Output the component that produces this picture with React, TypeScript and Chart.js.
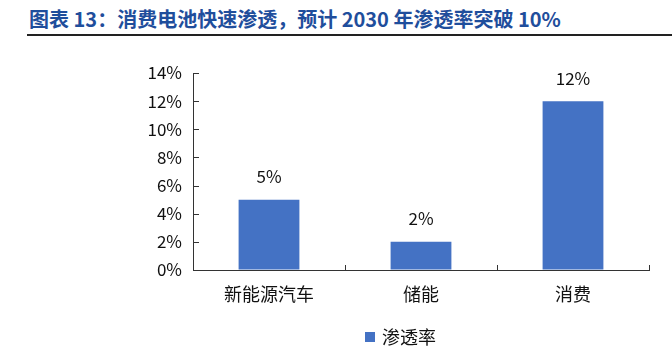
import React, { useEffect, useRef } from "react";
import { Chart, registerables } from "chart.js";
Chart.register(...registerables);

const titleText = "图表 13：消费电池快速渗透，预计 2030 年渗透率突破 10%";
const categories = ["新能源汽车", "储能", "消费"];
const penetration = [5, 2, 12];
const seriesName = "渗透率";
const yMax = 14;
const yStep = 2;

const FONT = "'Noto Sans CJK SC', 'Noto Sans', sans-serif";
const BAR = "#4472C4";
const AXIS = "#333333";
const TEXT = "#111111";

const innerTicks = {
  id: "innerTicks",
  afterDraw(chart: any) {
    const { ctx, chartArea, scales } = chart;
    const x = scales.x;
    const y = scales.y;
    ctx.save();
    ctx.strokeStyle = AXIS;
    ctx.lineWidth = 1;
    ctx.beginPath();
    y.ticks.forEach((t: any) => {
      const py = Math.round(y.getPixelForValue(t.value)) + 0.5;
      ctx.moveTo(chartArea.left, py);
      ctx.lineTo(chartArea.left + 6, py);
    });
    const n = categories.length;
    for (let i = 0; i <= n; i++) {
      const px = Math.round(x.getPixelForValue(i - 0.5)) + 0.5;
      ctx.moveTo(px, chartArea.bottom);
      ctx.lineTo(px, chartArea.bottom - 5);
    }
    ctx.stroke();
    ctx.restore();
  },
};

const dataLabels = {
  id: "dataLabels",
  afterDatasetsDraw(chart: any) {
    const { ctx } = chart;
    const meta = chart.getDatasetMeta(0);
    const vals = chart.data.datasets[0].data;
    ctx.save();
    ctx.fillStyle = TEXT;
    ctx.font = `17px ${FONT}`;
    ctx.textAlign = "center";
    ctx.textBaseline = "middle";
    meta.data.forEach((el: any, i: number) => {
      ctx.fillText(`${vals[i]}%`, el.x, el.y - 23);
    });
    ctx.restore();
  },
};

const customLegend = {
  id: "customLegend",
  afterDraw(chart: any) {
    const { ctx, chartArea } = chart;
    const ds = chart.data.datasets[0];
    const bx = chartArea.left + 172;
    const cy = chartArea.bottom + 67;
    ctx.save();
    ctx.fillStyle = ds.backgroundColor;
    ctx.fillRect(bx, cy - 5, 10, 10);
    ctx.fillStyle = TEXT;
    ctx.font = `18px ${FONT}`;
    ctx.textAlign = "left";
    ctx.textBaseline = "middle";
    ctx.fillText(ds.label, bx + 17, cy);
    ctx.restore();
  },
};

export default function App() {
  const ref = useRef<HTMLCanvasElement | null>(null);
  useEffect(() => {
    if (!ref.current) return;
    const chart = new Chart(ref.current, {
      type: "bar",
      data: {
        labels: categories,
        datasets: [
          {
            label: seriesName,
            data: penetration,
            backgroundColor: BAR,
            barPercentage: 0.4,
            categoryPercentage: 1,
          },
        ],
      },
      options: {
        responsive: false,
        animation: false,
        devicePixelRatio: 1,
        layout: { padding: { top: 73, right: 23, bottom: 0, left: 0 } },
        plugins: {
          legend: { display: false },
          tooltip: { enabled: false },
          title: { display: false },
        },
        scales: {
          x: {
            offset: true,
            grid: { display: false, drawTicks: false },
            border: { display: true, color: AXIS, width: 1 },
            ticks: {
              color: TEXT,
              font: { family: FONT, size: 18 },
              padding: 13,
            },
            afterFit(scale: any) {
              scale.height = 90;
            },
          },
          y: {
            min: 0,
            max: yMax,
            grid: { drawOnChartArea: false, drawTicks: false },
            border: { display: true, color: AXIS, width: 1 },
            ticks: {
              stepSize: yStep,
              color: TEXT,
              font: { family: FONT, size: 17 },
              padding: 11,
              callback: (v: any) => `${v}%`,
            },
            afterFit(scale: any) {
              scale.width = 193;
            },
          },
        },
      },
      plugins: [innerTicks, dataLabels, customLegend],
    });
    return () => chart.destroy();
  }, []);

  return (
    <div style={{ position: "absolute", left: 0, top: 0, width: 672, height: 360, background: "#fff", overflow: "hidden" }}>
      <div
        style={{
          position: "absolute",
          left: 29,
          top: 8,
          fontFamily: FONT,
          fontWeight: 700,
          fontSize: 20,
          lineHeight: "22px",
          color: "#1F4E9C",
          whiteSpace: "nowrap",
        }}
      >
        {titleText}
      </div>
      <div style={{ position: "absolute", left: 27, right: 0, top: 34, height: 2, background: "#222" }} />
      <canvas ref={ref} width={672} height={360} style={{ position: "absolute", left: 0, top: 0, width: 672, height: 360 }} />
    </div>
  );
}
